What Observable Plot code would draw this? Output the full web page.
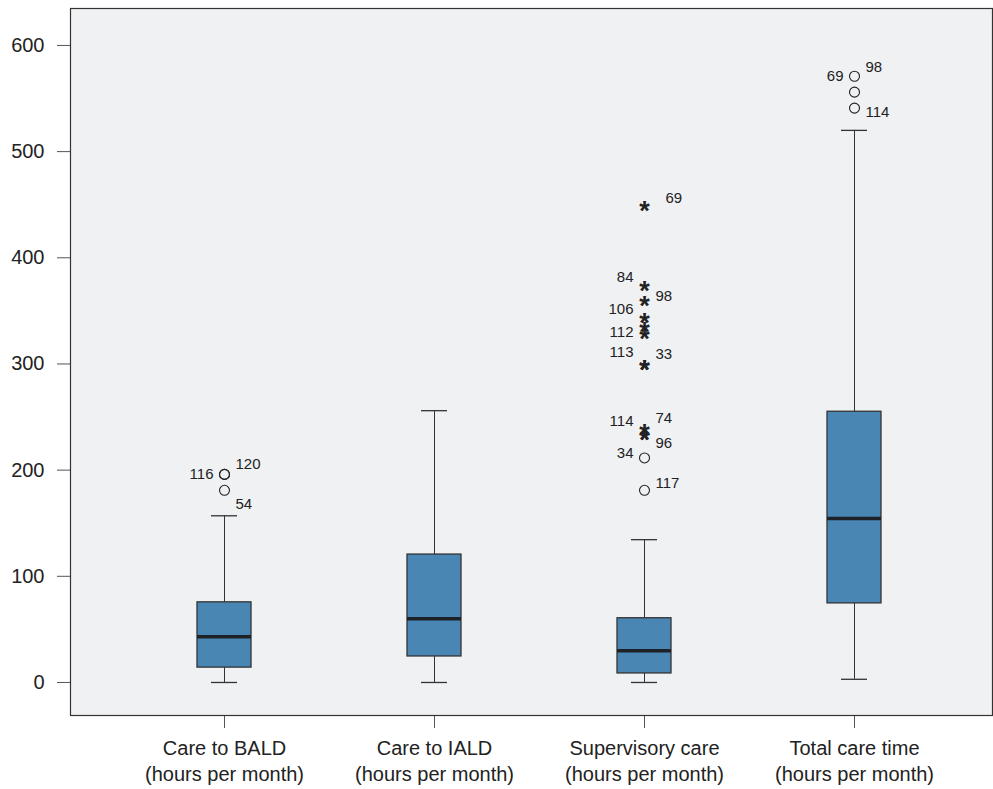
<!DOCTYPE html>
<html>
<head>
<meta charset="utf-8">
<script src="https://cdn.jsdelivr.net/npm/d3@7"></script>
<script src="https://cdn.jsdelivr.net/npm/@observablehq/plot@0.6"></script>
<style>
  html, body { margin: 0; padding: 0; background: #ffffff; }
  #chart svg { display: block; }
</style>
</head>
<body>
<div id="chart"></div>
<script>
// ---- data ----
const categories = ["Care to BALD", "Care to IALD", "Supervisory care", "Total care time"];
const unitLabel = "(hours per month)";
const whiskerLow  = [0, 0, 0, 3];
const q1          = [14, 24.5, 8.5, 74.5];
const median      = [43, 60, 30, 154.5];
const q3          = [75.5, 120.5, 60.5, 255];
const whiskerHigh = [157, 256, 134.5, 520];

// mild outliers (circles)
const circleCategory = ["Care to BALD", "Care to BALD", "Care to BALD", "Supervisory care", "Supervisory care", "Total care time", "Total care time", "Total care time"];
const circleValue    = [196, 196, 181, 211.5, 181, 571, 556, 541];

// extreme outliers (stars)
const starCategory = ["Supervisory care", "Supervisory care", "Supervisory care", "Supervisory care", "Supervisory care", "Supervisory care", "Supervisory care", "Supervisory care", "Supervisory care", "Supervisory care", "Supervisory care"];
const starValue    = [450, 375, 361, 345, 336, 330, 301, 301, 240, 235, 235];

// case labels
const labelCategory = ["Care to BALD", "Care to BALD", "Care to BALD",
  "Supervisory care", "Supervisory care", "Supervisory care", "Supervisory care", "Supervisory care", "Supervisory care",
  "Supervisory care", "Supervisory care", "Supervisory care", "Supervisory care", "Supervisory care", "Supervisory care",
  "Total care time", "Total care time", "Total care time"];
const labelText  = ["116", "120", "54", "69", "84", "98", "106", "112", "113", "33", "114", "74", "96", "34", "117", "69", "98", "114"];
const labelValue = [196, 206, 168, 456, 381.5, 363.5, 351.5, 329.5, 311, 309, 246, 248.5, 225, 215.5, 187.5, 571, 579.5, 537];
const labelSide  = ["left", "right", "right", "far", "left", "right", "left", "left", "left", "right", "left", "right", "right", "left", "right", "left", "right", "right"];

const yTicks = [0, 100, 200, 300, 400, 500, 600];

// ---- tables built from the arrays ----
const boxes = categories.map((c, i) => ({cat: c, lo: whiskerLow[i], q1: q1[i], med: median[i], q3: q3[i], hi: whiskerHigh[i]}));
const circles = circleCategory.map((c, i) => ({cat: c, value: circleValue[i]}));
const stars = starCategory.map((c, i) => ({cat: c, value: starValue[i]}));
const labels = labelCategory.map((c, i) => ({cat: c, text: labelText[i], value: labelValue[i], side: labelSide[i]}));

const boxFill = "#4a86b4";
const dark = "#222222";

const chart = Plot.plot({
  width: 993,
  height: 789,
  marginLeft: 70,
  marginRight: 1,
  marginTop: 8,
  marginBottom: 74,
  style: {fontFamily: "'Liberation Sans', Arial, sans-serif", background: "#ffffff", color: dark},
  x: {type: "band", domain: categories, paddingInner: 0.743, paddingOuter: 0.5635, align: 0.532},
  y: {domain: [-31.1, 634.8]},
  marks: [
    Plot.frame({fill: "#f0f1f3", stroke: null}),
    // whiskers
    Plot.ruleX(boxes, {x: "cat", y1: "lo", y2: "q1", stroke: "#333", strokeWidth: 1}),
    Plot.ruleX(boxes, {x: "cat", y1: "q3", y2: "hi", stroke: "#333", strokeWidth: 1}),
    // caps
    Plot.tickY(boxes, {x: "cat", y: "lo", stroke: "#333", strokeWidth: 1.3, insetLeft: 14, insetRight: 14}),
    Plot.tickY(boxes, {x: "cat", y: "hi", stroke: "#333", strokeWidth: 1.3, insetLeft: 14, insetRight: 14}),
    // boxes
    Plot.barY(boxes, {x: "cat", y1: "q1", y2: "q3", fill: boxFill, stroke: "#333", strokeWidth: 1.3}),
    // medians
    Plot.tickY(boxes, {x: "cat", y: "med", stroke: "#1e2226", strokeWidth: 3.5}),
    // circles
    Plot.dot(circles, {x: "cat", y: "value", r: 5, stroke: dark, strokeWidth: 1.1, fill: "none"}),
    // stars
    Plot.text(stars, {x: "cat", y: "value", text: () => "*", fontSize: 27, fontWeight: "bold", fill: dark, dy: 7}),
    // case labels
    Plot.text(labels.filter(d => d.side === "left"), {x: "cat", y: "value", text: "text", textAnchor: "end", dx: -11, fontSize: 15, fill: dark}),
    Plot.text(labels.filter(d => d.side === "right"), {x: "cat", y: "value", text: "text", textAnchor: "start", dx: 11, fontSize: 15, fill: dark}),
    Plot.text(labels.filter(d => d.side === "far"), {x: "cat", y: "value", text: "text", textAnchor: "start", dx: 21, fontSize: 15, fill: dark}),
    // axes
    Plot.axisY({ticks: yTicks, tickSize: 13, tickPadding: 13, fontSize: 20, label: null, stroke: "#555"}),
    Plot.axisX({tickSize: 13, tickPadding: 8, fontSize: 20, lineHeight: 1.3, label: null, stroke: "#555",
      tickFormat: d => d + "\n" + unitLabel}),
    Plot.frame({stroke: "#333", strokeWidth: 1.2})
  ]
});
document.getElementById("chart").appendChild(chart);
</script>
</body>
</html>
